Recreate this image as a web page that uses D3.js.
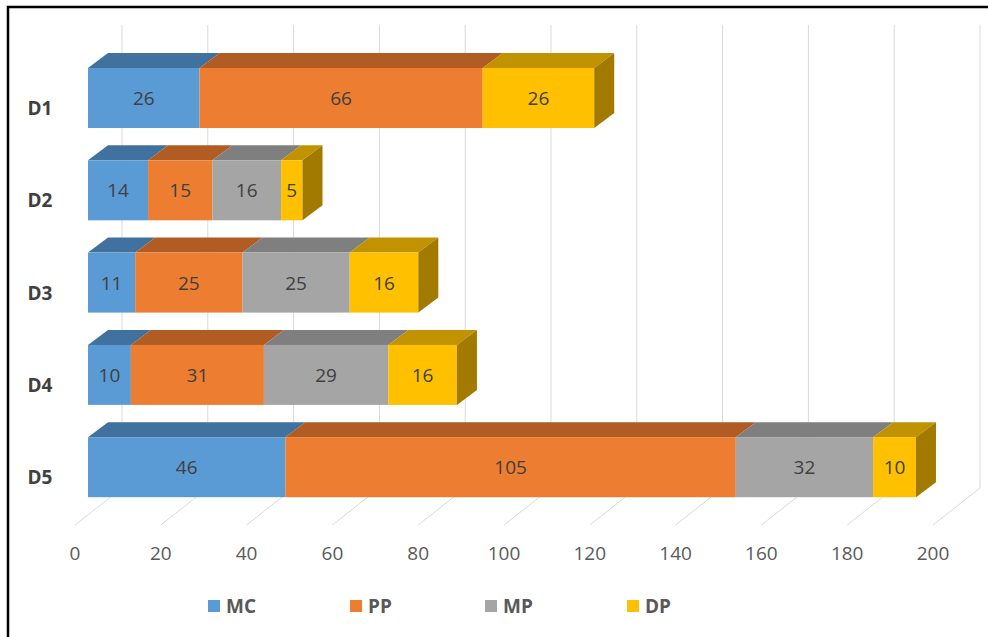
<!DOCTYPE html>
<html>
<head>
<meta charset="utf-8">
<script src="https://cdn.jsdelivr.net/npm/d3@7"></script>
<style>
  body { margin: 0; background: #fff; }
  text { font-family: "Open Sans", "Noto Sans", sans-serif; }
</style>
</head>
<body>
<svg width="988" height="637"></svg>
<script>
// categories and series values
var categories = ["D1", "D2", "D3", "D4", "D5"];
var seriesNames = ["MC", "PP", "MP", "DP"];
var MC = [26, 14, 11, 10, 46];
var PP = [66, 15, 25, 31, 105];
var MP = [0, 16, 25, 29, 32];
var DP = [26, 5, 16, 16, 10];
var tickValues = [0, 20, 40, 60, 80, 100, 120, 140, 160, 180, 200];

var front = ["#5b9bd5", "#ed7d31", "#a5a5a5", "#ffc000"];
var top_ = ["#41729f", "#b15c22", "#7f7f7f", "#c29300"];
var side = ["#3a6690", "#9c501d", "#6e6e6e", "#a27a00"];

var rows = categories.map((c, i) => ({cat: c, MC: MC[i], PP: PP[i], MP: MP[i], DP: DP[i]}));
var stacked = d3.stack().keys(seriesNames)(rows);

var svg = d3.select("svg");

// frame
svg.append("rect").attr("x", 8).attr("y", 7).attr("width", 990).attr("height", 640)
  .attr("fill", "none").attr("stroke", "#000").attr("stroke-width", 2.5);

// x scales: front face of bars, floor front edge, back wall
var x = d3.scaleLinear().domain([0, 200]).range([88, 946]);
var xFloor = d3.scaleLinear().domain([0, 200]).range([75, 933]);
var xWall = d3.scaleLinear().domain([0, 200]).range([122, 980]);
var y = d3.scaleBand().domain(categories).range([35.7, 529.5]).padding(0.35);

var dx = 20, dy = -15;
var floorFront = 525, floorBack = 488, wallTop = 25;

// gridlines on wall and floor
var grid = svg.append("g").attr("stroke", "#d9d9d9").attr("stroke-width", 1);
grid.selectAll("line.wall").data(tickValues).enter().append("line")
  .attr("x1", d => xWall(d)).attr("x2", d => xWall(d))
  .attr("y1", wallTop).attr("y2", floorBack);
grid.selectAll("line.floor").data(tickValues).enter().append("line")
  .attr("x1", d => xFloor(d)).attr("x2", d => xWall(d))
  .attr("y1", floorFront).attr("y2", floorBack);

// tick labels
svg.append("g").selectAll("text").data(tickValues).enter().append("text")
  .attr("x", d => xFloor(d)).attr("y", 560)
  .attr("text-anchor", "middle").attr("font-size", 19).attr("fill", "#595959")
  .text(d => d);

// category labels
svg.append("g").selectAll("text").data(categories).enter().append("text")
  .attr("x", 40).attr("y", d => y(d) + 47)
  .attr("text-anchor", "middle").attr("font-size", 19).attr("font-weight", "bold")
  .attr("fill", "#404040")
  .text(d => d);

// bars
var h = y.bandwidth();
categories.forEach((c, ci) => {
  var g = svg.append("g");
  var y0 = y(c);
  var segs = stacked.map((s, si) => ({si: si, x0: s[ci][0], x1: s[ci][1], v: s[ci][1] - s[ci][0]}))
    .filter(d => d.v > 0);
  segs.forEach((d, k) => {
    var a = x(d.x0), b = x(d.x1);
    g.append("polygon")
      .attr("points", [[a, y0], [b, y0], [b + dx, y0 + dy], [a + dx, y0 + dy]].join(" "))
      .attr("fill", top_[d.si]);
    g.append("rect").attr("x", a).attr("y", y0).attr("width", b - a).attr("height", h)
      .attr("fill", front[d.si]);
    if (k === segs.length - 1) {
      g.append("polygon")
        .attr("points", [[b, y0], [b + dx, y0 + dy], [b + dx, y0 + dy + h], [b, y0 + h]].join(" "))
        .attr("fill", side[d.si]);
    }
    g.append("text").attr("x", (a + b) / 2).attr("y", y0 + h / 2 + 7)
      .attr("text-anchor", "middle").attr("font-size", 19).attr("fill", "#404040")
      .text(d.v);
  });
});

// legend
var legendX = [208, 350, 485, 627];
var lg = svg.append("g").selectAll("g").data(seriesNames).enter().append("g")
  .attr("transform", (d, i) => "translate(" + legendX[i] + ",600)");
lg.append("rect").attr("width", 12).attr("height", 12).attr("fill", (d, i) => front[i]);
lg.append("text").attr("x", 18).attr("y", 13).attr("font-size", 19).attr("font-weight", "bold")
  .attr("fill", "#595959").text(d => d);
</script>
</body>
</html>
